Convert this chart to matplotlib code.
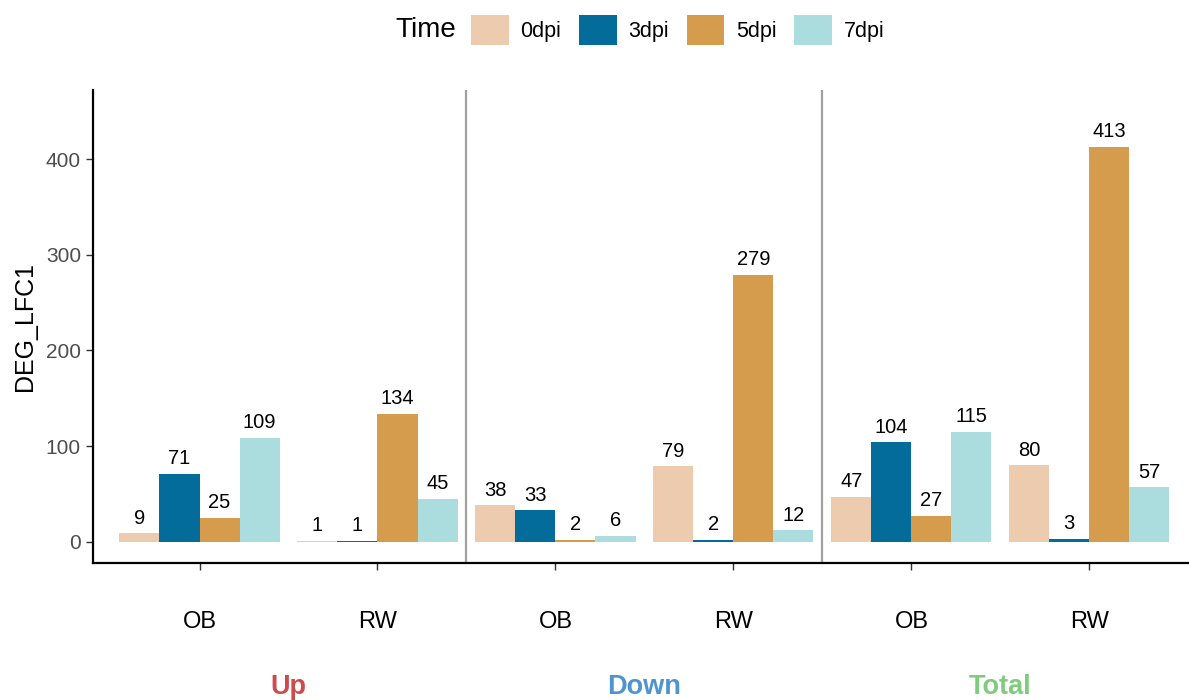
import numpy as np
import matplotlib.pyplot as plt
from matplotlib.patches import Patch
import matplotlib.transforms as mtransforms

plt.rcParams['font.family'] = ['Liberation Sans', 'DejaVu Sans']

# data
directions = ["Up", "Down", "Total"]
dir_colors = ["#CC4C4C", "#4D94D1", "#7FCC7F"]
samples = ["OB", "RW"]
times = ["0dpi", "3dpi", "5dpi", "7dpi"]
time_colors = ["#ECCBAE", "#046C9A", "#D69C4E", "#ABDDDE"]

up_ob = [9, 71, 25, 109]
up_rw = [1, 1, 134, 45]
down_ob = [38, 33, 2, 6]
down_rw = [79, 2, 279, 12]
total_ob = [47, 104, 27, 115]
total_rw = [80, 3, 413, 57]

groups = [up_ob, up_rw, down_ob, down_rw, total_ob, total_rw]
group_labels = samples * 3

fig = plt.figure(figsize=(11.89, 7), dpi=100)
ax = fig.add_axes([0.078, 0.196, 0.922, 0.675])

width = 0.9 / len(times)
x = np.arange(1, len(groups) + 1)
for i, t in enumerate(times):
    vals = [g[i] for g in groups]
    pos = x - 0.45 + width * (i + 0.5)
    ax.bar(pos, vals, width=width, color=time_colors[i], label=t)
    for p, v in zip(pos, vals):
        ax.annotate(str(v), (p, v), xytext=(0, 4), textcoords='offset points',
                    ha='center', va='bottom', fontsize=14.5, color='black')

# separators between Up / Down / Total
for sx in [2.5, 4.5]:
    ax.axvline(sx, color='#A0A0A0', lw=1.6, zorder=0)

ax.set_xlim(0.40, 6.56)
ax.set_ylim(-22, 472)
ax.set_yticks([0, 100, 200, 300, 400])
ax.set_xticks(x)
ax.set_xticklabels(group_labels, fontsize=17, color='black')
ax.tick_params(axis='x', length=5, width=1, color='#333333', pad=30)
ax.tick_params(axis='y', length=5, width=1, color='#333333', labelsize=15,
               labelcolor='#4D4D4D')
ax.set_ylabel("DEG_LFC1", fontsize=18, labelpad=6)

for s in ['top', 'right']:
    ax.spines[s].set_visible(False)
for s in ['left', 'bottom']:
    ax.spines[s].set_linewidth(1.6)
    ax.spines[s].set_color('black')

trans = mtransforms.blended_transform_factory(ax.transData, fig.transFigure)
for k, (d, c) in enumerate(zip(directions, dir_colors)):
    ax.text(2 * k + 1.5, 0.018, d, transform=trans, ha='center', va='center',
            fontsize=19.5, fontweight='bold', color=c)

# legend on top
handles = [Patch(facecolor=c, label=t) for c, t in zip(time_colors, times)]
fig.text(0.3835, 0.957, "Time", fontsize=20, ha='right', va='center')
fig.legend(handles=handles, loc='center left', bbox_to_anchor=(0.396, 0.957),
           ncol=4, frameon=False, fontsize=15.5, handlelength=1.75,
           handleheight=1.75, handletextpad=0.55, columnspacing=0.82,
           borderaxespad=0, borderpad=0)

fig.savefig("out.png", dpi=100)
